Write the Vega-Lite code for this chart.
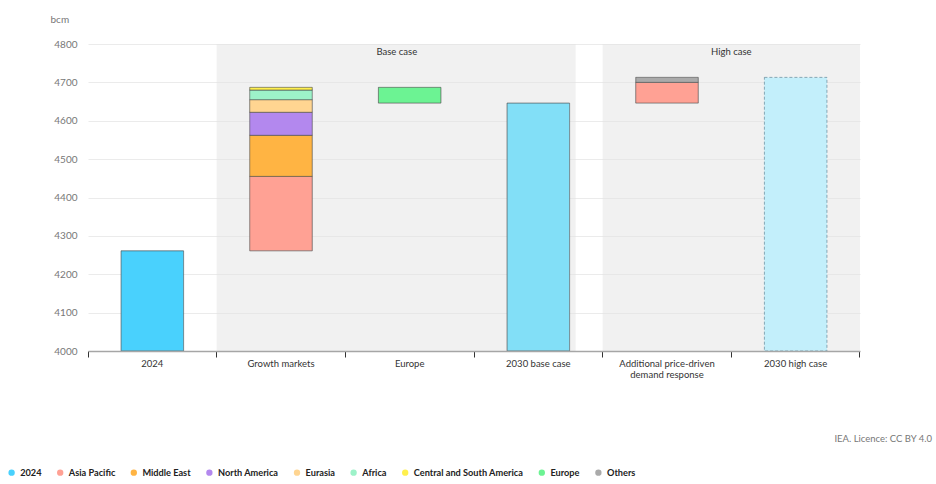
{
  "$schema": "https://vega.github.io/schema/vega-lite/v6.json",
  "width": 772,
  "height": 307,
  "autosize": {"type": "none"},
  "padding": {"left": 88, "top": 44, "right": 76, "bottom": 133},
  "background": "white",
  "config": {"font": "Lato", "view": {"stroke": null}, "axisY": {"labelOverlap": false}},
  "title": {"text": "IEA. Licence: CC BY 4.0", "orient": "bottom", "anchor": "end", "dx": 72, "dy": -48, "offset": 4, "fontSize": 9.5, "fontWeight": "normal", "color": "#777777", "font": "Lato"},
  "datasets": {
    "bars": [
      {"category": "2024", "series": "2024", "start": 4000, "end": 4261},
      {"category": "Growth markets", "series": "Asia Pacific", "start": 4261, "end": 4455},
      {"category": "Growth markets", "series": "Middle East", "start": 4455, "end": 4562},
      {"category": "Growth markets", "series": "North America", "start": 4562, "end": 4622},
      {"category": "Growth markets", "series": "Eurasia", "start": 4622, "end": 4655},
      {"category": "Growth markets", "series": "Africa", "start": 4655, "end": 4680},
      {"category": "Growth markets", "series": "Central and South America", "start": 4680, "end": 4687},
      {"category": "Europe", "series": "Europe", "start": 4646, "end": 4687},
      {"category": "2030 base case", "series": "2030 base case", "start": 4000, "end": 4646},
      {"category": "Additional price-driven demand response", "series": "Asia Pacific", "start": 4646, "end": 4700},
      {"category": "Additional price-driven demand response", "series": "Others", "start": 4700, "end": 4713},
      {"category": "2030 high case", "series": "2030 high case", "start": 4000, "end": 4713}
    ]
  },
  "layer": [
    {
      "data": {"values": [{"case": "Base case", "from": "Growth markets", "to": "2030 base case"}]},
      "layer": [
        {
          "mark": {"type": "rect", "fill": "#e4e4e4", "opacity": 0.5},
          "encoding": {
            "x": {"field": "from", "type": "nominal", "bandPosition": 0,
              "scale": {"domain": ["2024", "Growth markets", "Europe", "2030 base case", "Additional price-driven demand response", "2030 high case"], "paddingInner": 0, "paddingOuter": 0},
              "axis": {"title": null, "bandPosition": 1, "tickExtra": true, "ticks": true, "tickSize": 6, "tickColor": "#333333", "tickWidth": 1, "domainColor": "#a6a6a6", "domainWidth": 1.5, "labelFontSize": 9.5, "labelColor": "#333333", "labelPadding": 1, "labelAngle": 0, "labelLimit": 300, "labelLineHeight": 11, "grid": false,
                "labelExpr": "datum.value == 'Additional price-driven demand response' ? ['Additional price-driven', 'demand response'] : datum.label"}},
            "x2": {"field": "to", "bandPosition": 0.79},
            "y": {"datum": 4800, "type": "quantitative",
              "scale": {"domain": [4000, 4800], "nice": false, "zero": false},
              "axis": {"title": "bcm", "values": [4000, 4100, 4200, 4300, 4400, 4500, 4600, 4700, 4800], "tickCount": 20, "format": "d", "labelOverlap": false, "grid": true, "gridColor": "#ebebeb", "gridWidth": 1, "domain": false, "ticks": false, "labelPadding": 11, "labelFontSize": 10, "labelColor": "#777777", "titleAngle": 0, "titleX": -38, "titleY": -25, "titleAlign": "left", "titleBaseline": "middle", "titleFontWeight": "normal", "titleFontSize": 10, "titleColor": "#777777"}},
            "y2": {"datum": 4000}
          }
        },
        {
          "mark": {"type": "text", "fontSize": 9.5, "color": "#333333", "baseline": "middle", "align": "center", "dy": 8},
          "encoding": {
            "x": {"datum": "Europe", "type": "nominal", "bandPosition": 0.4},
            "y": {"datum": 4800, "type": "quantitative"},
            "text": {"field": "case"}
          }
        }
      ]
    },
    {
      "data": {"values": [{"case": "High case", "from": "Additional price-driven demand response", "to": "2030 high case"}]},
      "layer": [
        {
          "mark": {"type": "rect", "fill": "#e4e4e4", "opacity": 0.5},
          "encoding": {
            "x": {"field": "from", "type": "nominal", "bandPosition": 0},
            "x2": {"field": "to", "bandPosition": 1},
            "y": {"datum": 4800, "type": "quantitative"},
            "y2": {"datum": 4000}
          }
        },
        {
          "mark": {"type": "text", "fontSize": 9.5, "color": "#333333", "baseline": "middle", "align": "center", "dy": 8},
          "encoding": {
            "x": {"datum": "2030 high case", "type": "nominal", "bandPosition": 0},
            "y": {"datum": 4800, "type": "quantitative"},
            "text": {"field": "case"}
          }
        }
      ]
    },
    {
      "data": {"name": "bars"},
      "mark": {"type": "bar", "width": {"band": 0.486}, "strokeWidth": 0.8, "strokeOpacity": 0.85},
      "encoding": {
        "x": {"field": "category", "type": "nominal"},
        "y": {"field": "start", "type": "quantitative",
          "axis": {"title": "bcm", "values": [4000, 4100, 4200, 4300, 4400, 4500, 4600, 4700, 4800], "tickCount": 20, "format": "d", "labelOverlap": false, "grid": true, "gridColor": "#ebebeb", "gridWidth": 1, "domain": false, "ticks": false, "labelPadding": 11, "labelFontSize": 10, "labelColor": "#777777", "titleAngle": 0, "titleX": -38, "titleY": -25, "titleAlign": "left", "titleBaseline": "middle", "titleFontWeight": "normal", "titleFontSize": 10, "titleColor": "#777777"}},
        "y2": {"field": "end"},
        "color": {"field": "series", "type": "nominal",
          "scale": {"domain": ["2024", "Asia Pacific", "Middle East", "North America", "Eurasia", "Africa", "Central and South America", "Europe", "Others", "2030 base case", "2030 high case"],
            "range": ["#49d1fd", "#ffa194", "#ffb443", "#b388ee", "#ffd591", "#9df2c9", "#fff04d", "#6cf393", "#aaaaaa", "#82dff7", "#c3effb"]},
          "legend": {"orient": "none", "legendX": -81, "legendY": 424, "direction": "horizontal", "columns": 9, "title": null,
            "values": ["2024", "Asia Pacific", "Middle East", "North America", "Eurasia", "Africa", "Central and South America", "Europe", "Others"],
            "symbolType": "circle", "symbolSize": 40, "symbolStrokeWidth": 0, "symbolOpacity": 1, "labelFontSize": 9.2, "labelFontWeight": "bold", "labelColor": "#222222", "columnPadding": 13.6, "labelOffset": 4, "labelLimit": 300}},
        "stroke": {"condition": {"test": "datum.series === '2030 high case'", "value": "#5d8495"}, "value": "#4d4d4d"},
        "strokeDash": {"condition": {"test": "datum.series === '2030 high case'", "value": [3, 2]}, "value": [1, 0]}
      }
    }
  ]
}
